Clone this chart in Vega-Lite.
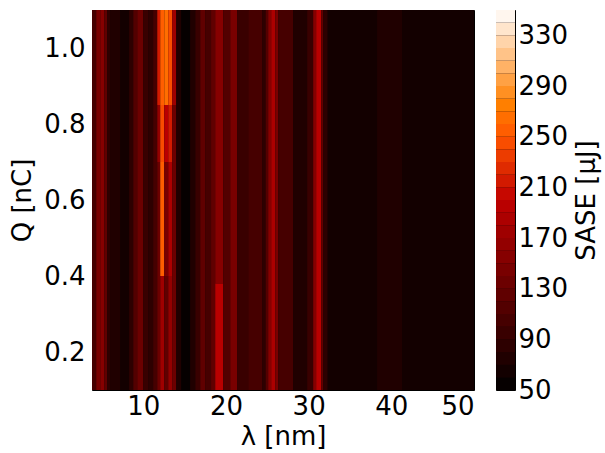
{
  "$schema": "https://vega.github.io/schema/vega-lite/v6.json",
  "background": "white",
  "padding": {"left": 9, "top": 9, "right": 2, "bottom": 2},
  "config": {
    "font": "DejaVu Sans",
    "view": {"stroke": "black", "strokeWidth": 1, "fill": "#1a0000"},
    "axis": {"grid": false, "ticks": false, "domain": false, "labelFontSize": 26, "titleFontSize": 26, "titleFontWeight": "normal", "labelColor": "black", "titleColor": "black", "labelFont": "DejaVu Sans", "titleFont": "DejaVu Sans"}
  },
  "spacing": 20,
  "hconcat": [
    {
      "width": 382,
      "height": 380,
      "data": {"values": [
        {"l0": 3.8, "l1": 4.31, "q0": 0.1, "q1": 1.1, "e": 105},
        {"l0": 4.31, "l1": 4.8, "q0": 0.1, "q1": 1.1, "e": 140},
        {"l0": 4.8, "l1": 5.28, "q0": 0.1, "q1": 1.1, "e": 155},
        {"l0": 5.28, "l1": 5.64, "q0": 0.1, "q1": 1.1, "e": 120},
        {"l0": 5.64, "l1": 6.01, "q0": 0.1, "q1": 1.1, "e": 85},
        {"l0": 6.01, "l1": 7.22, "q0": 0.1, "q1": 1.1, "e": 75},
        {"l0": 7.22, "l1": 8.3, "q0": 0.1, "q1": 1.1, "e": 65},
        {"l0": 8.3, "l1": 8.79, "q0": 0.1, "q1": 1.1, "e": 85},
        {"l0": 8.79, "l1": 9.27, "q0": 0.1, "q1": 1.1, "e": 110},
        {"l0": 9.27, "l1": 9.99, "q0": 0.1, "q1": 1.1, "e": 135},
        {"l0": 9.99, "l1": 10.6, "q0": 0.1, "q1": 1.1, "e": 95},
        {"l0": 10.6, "l1": 11.2, "q0": 0.1, "q1": 1.1, "e": 80},
        {"l0": 11.2, "l1": 11.69, "q0": 0.1, "q1": 1.1, "e": 105},
        {"l0": 11.69, "l1": 12.05, "q0": 0.85, "q1": 1.1, "e": 215},
        {"l0": 11.69, "l1": 12.05, "q0": 0.7, "q1": 0.85, "e": 165},
        {"l0": 11.69, "l1": 12.05, "q0": 0.1, "q1": 0.7, "e": 135},
        {"l0": 12.05, "l1": 12.54, "q0": 0.85, "q1": 1.1, "e": 255},
        {"l0": 12.05, "l1": 12.54, "q0": 0.7, "q1": 0.85, "e": 245},
        {"l0": 12.05, "l1": 12.54, "q0": 0.4, "q1": 0.7, "e": 255},
        {"l0": 12.05, "l1": 12.54, "q0": 0.1, "q1": 0.4, "e": 175},
        {"l0": 12.54, "l1": 13.02, "q0": 0.85, "q1": 1.1, "e": 265},
        {"l0": 12.54, "l1": 13.02, "q0": 0.7, "q1": 0.85, "e": 195},
        {"l0": 12.54, "l1": 13.02, "q0": 0.4, "q1": 0.7, "e": 145},
        {"l0": 12.54, "l1": 13.02, "q0": 0.1, "q1": 0.4, "e": 125},
        {"l0": 13.02, "l1": 13.5, "q0": 0.85, "q1": 1.1, "e": 245},
        {"l0": 13.02, "l1": 13.5, "q0": 0.7, "q1": 0.85, "e": 215},
        {"l0": 13.02, "l1": 13.5, "q0": 0.4, "q1": 0.7, "e": 185},
        {"l0": 13.02, "l1": 13.5, "q0": 0.1, "q1": 0.4, "e": 165},
        {"l0": 13.5, "l1": 13.99, "q0": 0.85, "q1": 1.1, "e": 175},
        {"l0": 13.5, "l1": 13.99, "q0": 0.1, "q1": 0.85, "e": 135},
        {"l0": 13.99, "l1": 14.59, "q0": 0.1, "q1": 1.1, "e": 75},
        {"l0": 14.59, "l1": 15.68, "q0": 0.1, "q1": 1.1, "e": 55},
        {"l0": 15.68, "l1": 16.3, "q0": 0.1, "q1": 1.1, "e": 75},
        {"l0": 16.3, "l1": 16.89, "q0": 0.1, "q1": 1.1, "e": 95},
        {"l0": 16.89, "l1": 17.49, "q0": 0.1, "q1": 1.1, "e": 125},
        {"l0": 17.49, "l1": 18.2, "q0": 0.1, "q1": 1.1, "e": 105},
        {"l0": 18.2, "l1": 18.7, "q0": 0.1, "q1": 1.1, "e": 125},
        {"l0": 18.7, "l1": 19.67, "q0": 0.38, "q1": 1.1, "e": 155},
        {"l0": 18.7, "l1": 19.67, "q0": 0.1, "q1": 0.38, "e": 195},
        {"l0": 19.67, "l1": 20.52, "q0": 0.1, "q1": 1.1, "e": 115},
        {"l0": 20.52, "l1": 21.36, "q0": 0.1, "q1": 1.1, "e": 145},
        {"l0": 21.36, "l1": 22.69, "q0": 0.1, "q1": 1.1, "e": 95},
        {"l0": 22.69, "l1": 24.39, "q0": 0.1, "q1": 1.1, "e": 105},
        {"l0": 24.39, "l1": 24.8, "q0": 0.1, "q1": 1.1, "e": 85},
        {"l0": 24.8, "l1": 25.11, "q0": 0.1, "q1": 1.1, "e": 115},
        {"l0": 25.11, "l1": 25.47, "q0": 0.1, "q1": 1.1, "e": 155},
        {"l0": 25.47, "l1": 25.96, "q0": 0.1, "q1": 1.1, "e": 185},
        {"l0": 25.96, "l1": 26.32, "q0": 0.1, "q1": 1.1, "e": 145},
        {"l0": 26.32, "l1": 28.13, "q0": 0.1, "q1": 1.1, "e": 105},
        {"l0": 28.13, "l1": 29.83, "q0": 0.1, "q1": 1.1, "e": 75},
        {"l0": 29.83, "l1": 30.55, "q0": 0.1, "q1": 1.1, "e": 95},
        {"l0": 30.55, "l1": 30.91, "q0": 0.1, "q1": 1.1, "e": 155},
        {"l0": 30.91, "l1": 31.52, "q0": 0.1, "q1": 1.1, "e": 195},
        {"l0": 31.52, "l1": 31.76, "q0": 0.1, "q1": 1.1, "e": 125},
        {"l0": 31.76, "l1": 32.3, "q0": 0.1, "q1": 1.1, "e": 85},
        {"l0": 32.3, "l1": 38.29, "q0": 0.1, "q1": 1.1, "e": 65},
        {"l0": 38.29, "l1": 41.31, "q0": 0.1, "q1": 1.1, "e": 75},
        {"l0": 41.31, "l1": 50, "q0": 0.1, "q1": 1.1, "e": 65}
      ]},
      "mark": {"type": "rect"},
      "encoding": {
        "x": {"field": "l0", "type": "quantitative", "scale": {"domain": [3.8, 50], "nice": false, "zero": false}, "axis": {"values": [10, 20, 30, 40, 50], "title": "λ [nm]", "labelPadding": 3, "titlePadding": 4}},
        "x2": {"field": "l1"},
        "y": {"field": "q0", "type": "quantitative", "scale": {"domain": [0.1, 1.1], "nice": false, "zero": false}, "axis": {"values": [0.2, 0.4, 0.6, 0.8, 1.0], "format": ".1f", "title": "Q [nC]", "labelPadding": 7, "titlePadding": 8}},
        "y2": {"field": "q1"},
        "color": {"field": "e", "type": "quantitative", "legend": null, "scale": {"type": "threshold", "domain": [60, 70, 80, 90, 100, 110, 120, 130, 140, 150, 160, 170, 180, 190, 200, 210, 220, 230, 240, 250, 260, 270, 280, 290, 300, 310, 320, 330, 340], "range": ["#060000", "#130000", "#200000", "#2d0000", "#390000", "#460000", "#530000", "#600000", "#6c0000", "#790000", "#860000", "#930000", "#9f0000", "#ac0000", "#b90000", "#c60800", "#d21a00", "#df2b00", "#ec3c00", "#f94d00", "#ff5e00", "#ff6e00", "#ff7f00", "#ff9022", "#ffa144", "#ffb266", "#ffc388", "#ffd4aa", "#ffe5cc", "#fff6ee"]}}
      }
    },
    {
      "width": 19,
      "height": 380,
      "data": {"values": [
        {"lo": 50, "hi": 60, "e": 55}, {"lo": 60, "hi": 70, "e": 65}, {"lo": 70, "hi": 80, "e": 75},
        {"lo": 80, "hi": 90, "e": 85}, {"lo": 90, "hi": 100, "e": 95}, {"lo": 100, "hi": 110, "e": 105},
        {"lo": 110, "hi": 120, "e": 115}, {"lo": 120, "hi": 130, "e": 125}, {"lo": 130, "hi": 140, "e": 135},
        {"lo": 140, "hi": 150, "e": 145}, {"lo": 150, "hi": 160, "e": 155}, {"lo": 160, "hi": 170, "e": 165},
        {"lo": 170, "hi": 180, "e": 175}, {"lo": 180, "hi": 190, "e": 185}, {"lo": 190, "hi": 200, "e": 195},
        {"lo": 200, "hi": 210, "e": 205}, {"lo": 210, "hi": 220, "e": 215}, {"lo": 220, "hi": 230, "e": 225},
        {"lo": 230, "hi": 240, "e": 235}, {"lo": 240, "hi": 250, "e": 245}, {"lo": 250, "hi": 260, "e": 255},
        {"lo": 260, "hi": 270, "e": 265}, {"lo": 270, "hi": 280, "e": 275}, {"lo": 280, "hi": 290, "e": 285},
        {"lo": 290, "hi": 300, "e": 295}, {"lo": 300, "hi": 310, "e": 305}, {"lo": 310, "hi": 320, "e": 315},
        {"lo": 320, "hi": 330, "e": 325}, {"lo": 330, "hi": 340, "e": 335}, {"lo": 340, "hi": 350, "e": 345}
      ]},
      "mark": {"type": "rect"},
      "encoding": {
        "y": {"field": "lo", "type": "quantitative", "scale": {"domain": [50, 350], "nice": false, "zero": false}, "axis": {"orient": "right", "values": [50, 90, 130, 170, 210, 250, 290, 330], "title": "SASE [μJ]", "labelPadding": 3, "titlePadding": 6, "titleAngle": 270, "titleBaseline": "top"}},
        "y2": {"field": "hi"},
        "color": {"field": "e", "type": "quantitative", "legend": null, "scale": {"type": "threshold", "domain": [60, 70, 80, 90, 100, 110, 120, 130, 140, 150, 160, 170, 180, 190, 200, 210, 220, 230, 240, 250, 260, 270, 280, 290, 300, 310, 320, 330, 340], "range": ["#060000", "#130000", "#200000", "#2d0000", "#390000", "#460000", "#530000", "#600000", "#6c0000", "#790000", "#860000", "#930000", "#9f0000", "#ac0000", "#b90000", "#c60800", "#d21a00", "#df2b00", "#ec3c00", "#f94d00", "#ff5e00", "#ff6e00", "#ff7f00", "#ff9022", "#ffa144", "#ffb266", "#ffc388", "#ffd4aa", "#ffe5cc", "#fff6ee"]}}
      }
    }
  ]
}
